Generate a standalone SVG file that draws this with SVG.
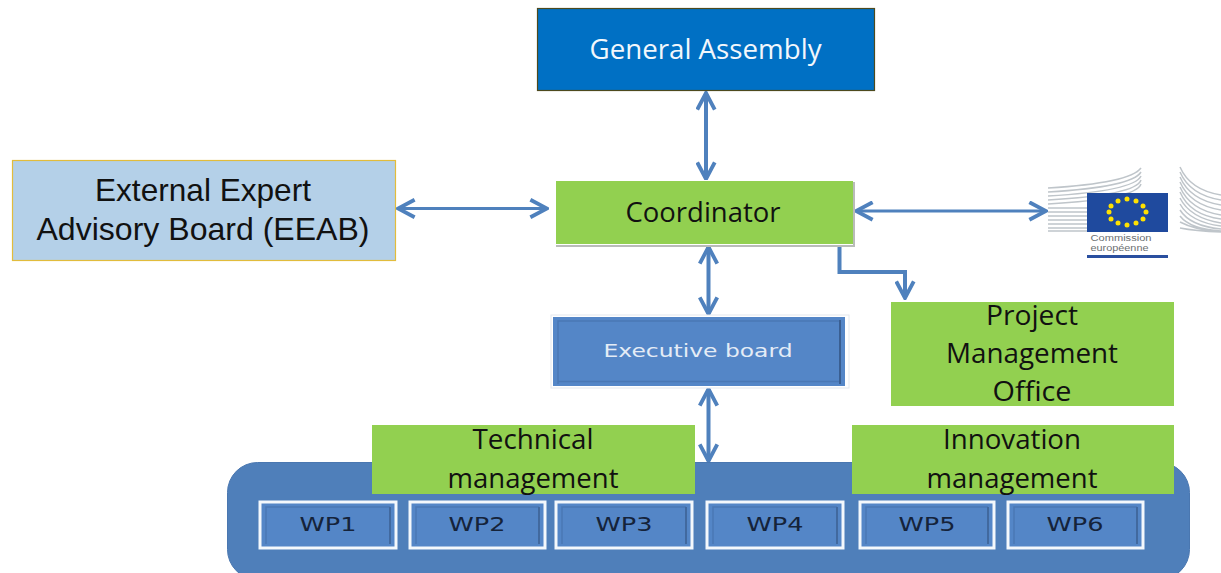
<svg xmlns="http://www.w3.org/2000/svg" width="1221" height="573" viewBox="0 0 1221 573">
<style>
text{font-family:"Open Sans","Noto Sans","Liberation Sans",sans-serif;text-anchor:middle}
.g{fill:#92d050}
.lb{font-size:27px;fill:#111}
.ee{font-family:"Liberation Sans",sans-serif;font-size:31.500px;fill:#111}
.wp{fill:#5486c7;stroke:#f4f8fc;stroke-width:3}
.wpi{fill:none;stroke:#41699f;stroke-width:2}
.wpb{fill:none;stroke:#4a78b5;stroke-width:1.500}
.wpt{font-family:"DejaVu Sans",sans-serif;font-size:19px;fill:#15233a}
.c{fill:none;stroke:#4f81bd;stroke-width:4}
.t{stroke-width:2.800}
.s{fill:none;stroke:#bfc5ca;stroke-width:1.500}
.star{fill:#ffe100}
.lg{font-family:"Liberation Sans",sans-serif;font-size:8.500px;fill:#6b6f72}
</style>
<defs>
<marker id="a" viewBox="0 0 12 12" refX="11" refY="6" markerWidth="21" markerHeight="21" markerUnits="userSpaceOnUse" orient="auto-start-reverse"><path d="M1.500 1L11 6L1.500 11" fill="none" stroke="#4f81bd" stroke-width="2.200"/></marker>
</defs>
<g id="connectors">
<path class="c" d="M706 93V179" marker-start="url(#a)" marker-end="url(#a)"/>
<path class="c t" d="M398 208.500H547" marker-start="url(#a)" marker-end="url(#a)"/>
<path class="c t" d="M856 211H1046" marker-start="url(#a)" marker-end="url(#a)"/>
<path class="c" d="M708.500 247V314" marker-start="url(#a)" marker-end="url(#a)"/>
<path class="c" d="M839.500 246V272H905V298" marker-end="url(#a)"/>
<path class="c" d="M708.500 389V461" marker-start="url(#a)" marker-end="url(#a)"/>
</g>
<g id="general-assembly">
<rect x="537.500" y="8.500" width="337" height="82" fill="#0070c4" stroke="#4d4a1e" stroke-width="1.200"/>
<text x="705.500" y="59" font-size="26.500" fill="#f2f7fc" textLength="232" lengthAdjust="spacingAndGlyphs">General Assembly</text>
</g>
<g id="eeab">
<rect x="12.500" y="160.500" width="383" height="100" fill="#b4d0e8" stroke="#e2bc3c" stroke-width="1.200"/>
<text x="203" y="201" class="ee" textLength="216" lengthAdjust="spacingAndGlyphs">External Expert</text>
<text x="203" y="240" class="ee" textLength="333" lengthAdjust="spacingAndGlyphs">Advisory Board (EEAB)</text>
</g>
<g id="coordinator">
<rect x="556" y="182" width="299" height="65" fill="#b9bcb9"/>
<rect x="555" y="180" width="298" height="65" fill="#fff"/>
<rect x="556" y="181" width="297" height="63" class="g"/>
<text x="703" y="222" class="lb" textLength="155" lengthAdjust="spacingAndGlyphs">Coordinator</text>
</g>
<g id="logo">
<path class="s" d="M1048 188Q1130 183 1141 168M1048 192Q1132 187 1141 172M1048 196Q1134 191 1141 176M1048 200Q1136 195 1141 180M1048 204Q1136 199 1141 184M1048 208H1087M1048 212H1087M1048 216H1087M1048 220H1087M1048 224H1087M1048 228H1087M1048 231H1087"/>
<path class="s" d="M1180 167Q1190 190 1221 195M1180 172Q1190 195 1221 200M1180 177Q1190 200 1221 205M1180 182Q1190 205 1221 210M1180 187Q1190 210 1221 215M1180 192Q1190 215 1221 219M1180 198Q1190 218 1221 223M1180 204Q1190 222 1221 226M1180 210Q1190 226 1221 229M1180 216Q1190 229 1221 231M1180 222Q1195 230 1221 232M1180 228Q1195 231 1221 232"/>
<rect x="1087" y="193" width="81" height="39" fill="#1f4a9e"/>
<g class="star">
<circle cx="1127" cy="199" r="2.500"/><circle cx="1136" cy="201" r="2.500"/><circle cx="1143" cy="206" r="2.500"/><circle cx="1146" cy="212" r="2.500"/><circle cx="1143" cy="219" r="2.500"/><circle cx="1136" cy="223" r="2.500"/><circle cx="1127" cy="225" r="2.500"/><circle cx="1118" cy="223" r="2.500"/><circle cx="1111" cy="219" r="2.500"/><circle cx="1109" cy="212" r="2.500"/><circle cx="1111" cy="206" r="2.500"/><circle cx="1118" cy="201" r="2.500"/>
</g>
<text x="1121" y="241" class="lg" textLength="61" lengthAdjust="spacingAndGlyphs">Commission</text>
<text x="1119.500" y="251" class="lg" textLength="58" lengthAdjust="spacingAndGlyphs">européenne</text>
<rect x="1087" y="255" width="81" height="3" fill="#2a4f9f"/>
</g>
<g id="pmo">
<rect x="891" y="302" width="283" height="104" class="g"/>
<text x="1032" y="325" class="lb" textLength="92" lengthAdjust="spacingAndGlyphs">Project</text>
<text x="1032" y="363" class="lb" textLength="172" lengthAdjust="spacingAndGlyphs">Management</text>
<text x="1032" y="401" class="lb" textLength="79" lengthAdjust="spacingAndGlyphs">Office</text>
</g>
<g id="executive-board">
<rect x="551" y="315" width="298" height="73" fill="#fff" stroke="#e3e8ee" stroke-width="1"/>
<rect x="553" y="317" width="292" height="69" fill="#5486c7"/>
<path d="M558 384V321H840" fill="none" stroke="#4a78b5" stroke-width="1.500"/>
<path d="M558 381.500H840" fill="none" stroke="#4a78b5" stroke-width="1.500"/>
<path d="M840 320V384" fill="none" stroke="#3a5f92" stroke-width="2"/>
<text x="698" y="357" font-size="17px" fill="#e4ecf6" style="font-family:'DejaVu Sans',sans-serif" textLength="189" lengthAdjust="spacingAndGlyphs">Executive board</text>
</g>
<g id="wp-container">
<rect x="227.500" y="462.500" width="962" height="117" rx="30" fill="#4f7fba" stroke="#4a77b0"/>
</g>
<g id="wp1"><rect class="wp" x="260" y="502" width="136" height="46"/><path class="wpb" d="M266 544V507H390"/><path class="wpi" d="M390 507V544"/><text class="wpt" x="328" y="531" textLength="57" lengthAdjust="spacingAndGlyphs">WP1</text></g>
<g id="wp2"><rect class="wp" x="410" y="502" width="135" height="46"/><path class="wpb" d="M416 544V507H539"/><path class="wpi" d="M539 507V544"/><text class="wpt" x="477" y="531" textLength="57" lengthAdjust="spacingAndGlyphs">WP2</text></g>
<g id="wp3"><rect class="wp" x="556" y="502" width="136" height="46"/><path class="wpb" d="M562 544V507H686"/><path class="wpi" d="M686 507V544"/><text class="wpt" x="624" y="531" textLength="57" lengthAdjust="spacingAndGlyphs">WP3</text></g>
<g id="wp4"><rect class="wp" x="707" y="502" width="136" height="46"/><path class="wpb" d="M713 544V507H837"/><path class="wpi" d="M837 507V544"/><text class="wpt" x="775" y="531" textLength="57" lengthAdjust="spacingAndGlyphs">WP4</text></g>
<g id="wp5"><rect class="wp" x="860" y="502" width="134" height="46"/><path class="wpb" d="M866 544V507H988"/><path class="wpi" d="M988 507V544"/><text class="wpt" x="927" y="531" textLength="57" lengthAdjust="spacingAndGlyphs">WP5</text></g>
<g id="wp6"><rect class="wp" x="1008" y="502" width="135" height="46"/><path class="wpb" d="M1014 544V507H1137"/><path class="wpi" d="M1137 507V544"/><text class="wpt" x="1075" y="531" textLength="57" lengthAdjust="spacingAndGlyphs">WP6</text></g>
<g id="technical-management">
<rect x="372" y="425" width="323" height="69" class="g"/>
<text x="533" y="449" class="lb" textLength="121" lengthAdjust="spacingAndGlyphs">Technical</text>
<text x="533" y="488" class="lb" textLength="171" lengthAdjust="spacingAndGlyphs">management</text>
</g>
<g id="innovation-management">
<rect x="852" y="425" width="322" height="69" class="g"/>
<text x="1012" y="449" class="lb" textLength="138" lengthAdjust="spacingAndGlyphs">Innovation</text>
<text x="1012" y="488" class="lb" textLength="171" lengthAdjust="spacingAndGlyphs">management</text>
</g>
</svg>
